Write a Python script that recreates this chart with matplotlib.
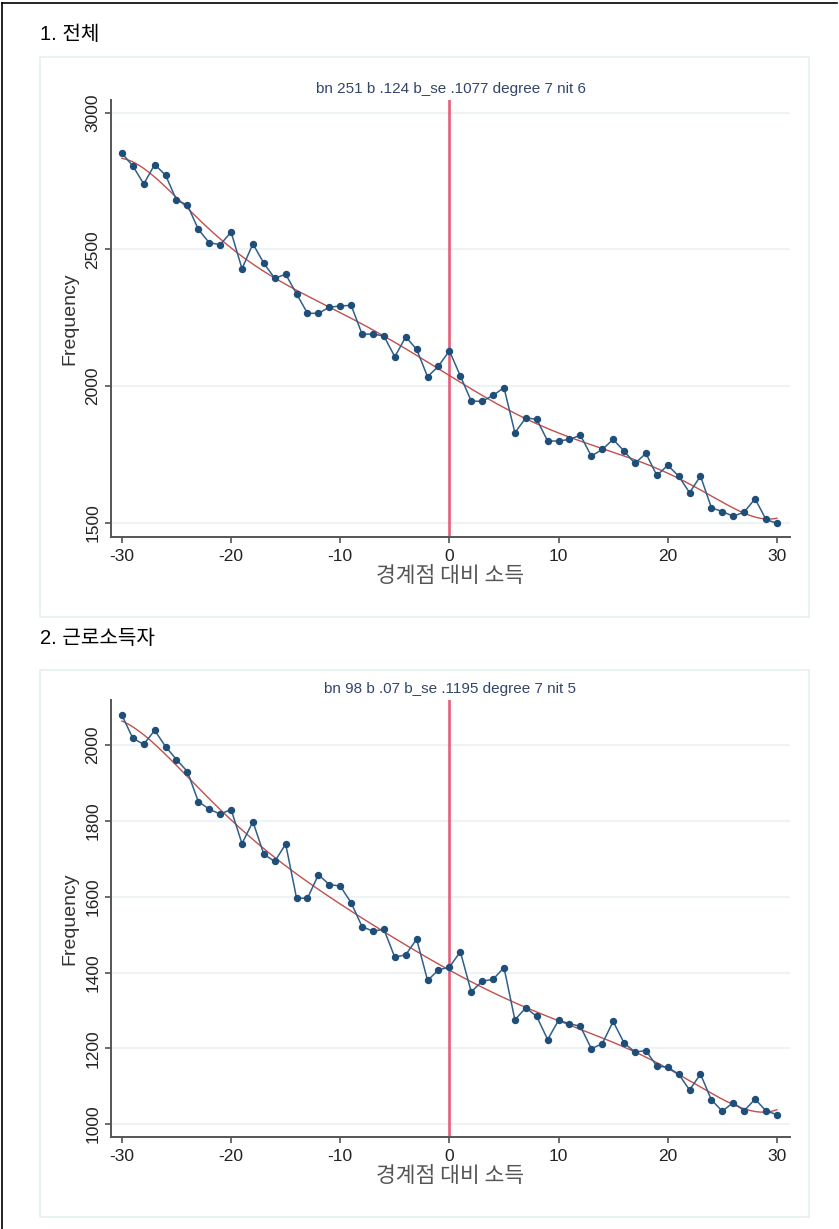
import numpy as np
import matplotlib
matplotlib.use("Agg")
import matplotlib.pyplot as plt
from matplotlib.patches import Rectangle
from matplotlib.lines import Line2D

plt.rcParams["axes.unicode_minus"] = False

# ---------------- data ----------------
x_bins = list(range(-30, 31))
freq_all = [2851, 2805, 2739, 2810, 2771, 2680, 2662, 2573, 2524, 2517,
            2563, 2429, 2520, 2449, 2394, 2409, 2337, 2266, 2266, 2288,
            2293, 2295, 2190, 2190, 2183, 2107, 2180, 2134, 2034, 2073,
            2129,
            2037, 1945, 1944, 1966, 1994, 1829, 1884, 1878, 1799, 1799,
            1805, 1820, 1744, 1768, 1805, 1762, 1717, 1754, 1673, 1710,
            1671, 1610, 1671, 1555, 1541, 1524, 1539, 1588, 1512, 1498]
freq_wage = [2079, 2018, 2002, 2039, 1996, 1962, 1930, 1851, 1831, 1818,
             1830, 1740, 1798, 1712, 1693, 1739, 1596, 1596, 1658, 1632,
             1628, 1584, 1521, 1509, 1514, 1440, 1447, 1488, 1379, 1407,
             1414,
             1455, 1349, 1377, 1382, 1413, 1275, 1307, 1284, 1223, 1274,
             1265, 1258, 1199, 1212, 1271, 1214, 1190, 1194, 1153, 1150,
             1132, 1090, 1132, 1064, 1034, 1057, 1035, 1066, 1035, 1025]
panel_titles = ["1. 전체", "2. 근로소득자"]
subtitles = ["bn 251 b .124 b_se .1077 degree 7 nit 6",
             "bn 98 b .07 b_se .1195 degree 7 nit 5"]
yticks_all = [1500, 2000, 2500, 3000]
yticks_wage = [1000, 1200, 1400, 1600, 1800, 2000]
xticks = [-30, -20, -10, 0, 10, 20, 30]
xlabel_text = "경계점 대비 소득"
ylabel_text = "Frequency"
poly_degree = 7
threshold = 0

# ---------------- layout ----------------
W, H = 839, 1229
fig = plt.figure(figsize=(W / 100, H / 100), dpi=100)
fig.patch.set_facecolor("white")

LAT = ["Liberation Sans", "Noto Sans CJK KR", "DejaVu Sans"]
KR = ["Noto Sans CJK KR", "Liberation Sans", "DejaVu Sans"]


def rect(l, t, r, b):
    return [l / W, 1 - b / H, (r - l) / W, (b - t) / H]


def fx(px):
    return px / W


def fy(py):
    return 1 - py / H


# outer border (left & top)
fig.add_artist(Line2D([fx(1.5), fx(1.5)], [fy(3), fy(1229)], color="black", lw=1.2))
fig.add_artist(Line2D([fx(1.5), fx(837)], [fy(3), fy(3)], color="black", lw=1.2))

panels = [
    dict(data=freq_all, yticks=yticks_all, ylim=(1448, 3046),
         box=(111, 100, 790, 537), frame=(40, 57, 809, 617),
         title_y=35, sub_y=88),
    dict(data=freq_wage, yticks=yticks_wage, ylim=(966, 2119),
         box=(111, 700, 790, 1137), frame=(40, 670, 809, 1217),
         title_y=638, sub_y=690),
]

navy = "#1f4e79"
for i, p in enumerate(panels):
    # graph region frame
    fl, ft, fr, fb = p["frame"]
    fig.add_artist(Rectangle((fx(fl), fy(fb)), (fr - fl) / W, (fb - ft) / H,
                             transform=fig.transFigure, fill=False,
                             edgecolor="#e6eff1", lw=1.2))
    # panel title
    fig.text(fx(40), fy(p["title_y"]), panel_titles[i], family=LAT,
             fontsize=14.5, color="black", ha="left", va="center")

    ax = fig.add_axes(rect(*p["box"]))
    ax.set_xlim(-31.0, 31.2)
    ax.set_ylim(*p["ylim"])

    # gridlines
    for yv in p["yticks"]:
        ax.axhline(yv, color="#e9f1f3", lw=1.1, zorder=0)

    # threshold line
    ax.axvline(threshold, color="#e3607c", lw=1.9, zorder=1)

    # polynomial fit
    poly = np.polynomial.Polynomial.fit(x_bins, p["data"], poly_degree)
    xs = np.linspace(min(x_bins), max(x_bins), 400)
    ax.plot(xs, poly(xs), color="#c0504d", lw=1.0, zorder=2)

    # data
    ax.plot(x_bins, p["data"], color="#2f5f8a", lw=1.1, marker="o",
            markersize=4.3, markerfacecolor=navy, markeredgecolor=navy,
            zorder=3)

    # axes styling
    for s in ["top", "right"]:
        ax.spines[s].set_visible(False)
    for s in ["left", "bottom"]:
        ax.spines[s].set_color("#555555")
        ax.spines[s].set_linewidth(1.4)
    ax.set_xticks(xticks)
    ax.set_yticks(p["yticks"])
    ax.tick_params(axis="both", direction="out", length=4.5, width=1.1,
                   color="#444444", labelsize=12.5, labelcolor="#222222")
    ax.tick_params(axis="x", pad=4)
    ax.tick_params(axis="y", pad=3)
    for lab in ax.get_yticklabels():
        lab.set_rotation(90)
        lab.set_va("center")
        lab.set_family(LAT)
    for lab in ax.get_xticklabels():
        lab.set_family(LAT)

    ax.set_xlabel(xlabel_text, family=KR, fontsize=15.5, color="#555555",
                  labelpad=1)
    ax.set_ylabel(ylabel_text, family=LAT, fontsize=14, color="#333333",
                  labelpad=5)

    ax.set_title(subtitles[i], family=LAT, fontsize=11, color="#34456a",
                 pad=5)

fig.savefig("out.png", dpi=100, facecolor="white")
